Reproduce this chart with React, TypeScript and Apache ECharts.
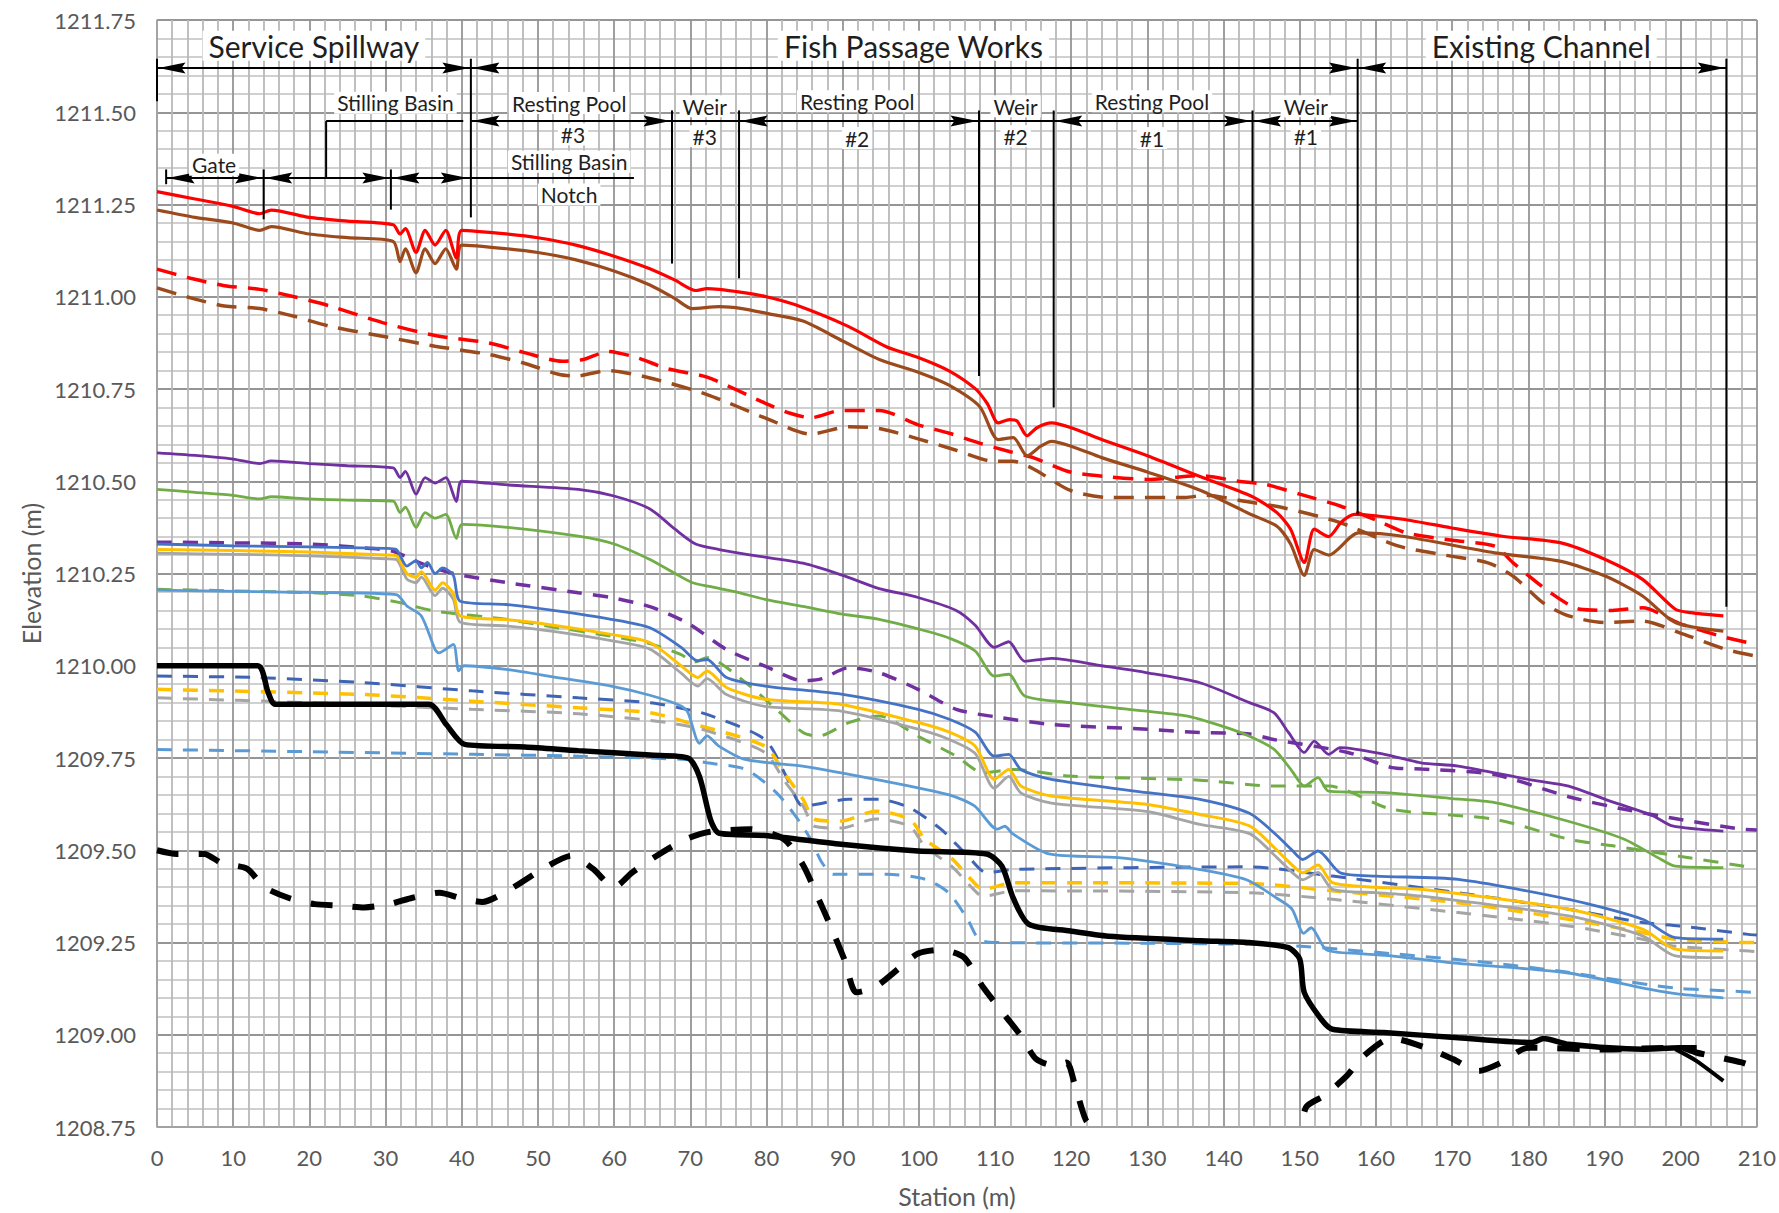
import React, { useEffect, useRef } from "react";
import * as echarts from "echarts";

type P = [number, number];

// ---------- data (station m, elevation m) ----------
const redSolid: P[] = [[0,1211.285],[5,1211.265],[10,1211.245],[13.5,1211.225],[15,1211.235],[20,1211.215],[25,1211.205],[31,1211.195],[31.9,1211.17],[32.6,1211.185],[34,1211.12],[35.2,1211.18],[36.5,1211.14],[37.9,1211.18],[39.3,1211.105],[40,1211.18],[46,1211.17],[50,1211.16],[55,1211.14],[60,1211.11],[64.7,1211.076],[68,1211.045],[70.7,1211.017],[72.2,1211.022],[76.8,1211.012],[80,1211.0],[83.8,1210.978],[90.8,1210.919],[95.8,1210.864],[100,1210.835],[103.9,1210.8],[107.4,1210.751],[109,1210.71],[110.4,1210.658],[111.9,1210.667],[112.9,1210.663],[114.2,1210.623],[115.5,1210.645],[117.4,1210.658],[120,1210.645],[124,1210.613],[130,1210.569],[137,1210.512],[143.6,1210.46],[147,1210.415],[148.8,1210.37],[150.6,1210.28],[151.9,1210.37],[153.8,1210.35],[155.5,1210.39],[157.2,1210.41],[163.5,1210.397],[169.8,1210.374],[176.6,1210.351],[184.3,1210.333],[190.1,1210.288],[195,1210.234],[199.3,1210.153],[201.3,1210.144],[205.6,1210.135]];
const brownSolid: P[] = [[0,1211.235],[5,1211.215],[10,1211.2],[13.5,1211.18],[15,1211.19],[20,1211.17],[25,1211.16],[31,1211.15],[31.9,1211.095],[32.6,1211.13],[34,1211.065],[35.2,1211.13],[36.5,1211.09],[37.9,1211.13],[39.3,1211.075],[40,1211.14],[46,1211.13],[50,1211.12],[55,1211.1],[60,1211.07],[64.7,1211.032],[68,1210.995],[70.2,1210.968],[73.8,1210.973],[76.8,1210.968],[80,1210.955],[84.8,1210.934],[90,1210.88],[94.8,1210.83],[100,1210.795],[103.9,1210.761],[108,1210.702],[110.4,1210.613],[112.4,1210.618],[114.2,1210.569],[116,1210.595],[117.4,1210.608],[120,1210.595],[124,1210.564],[130,1210.525],[137,1210.475],[143.6,1210.41],[147,1210.378],[148.8,1210.33],[150.6,1210.245],[151.9,1210.315],[153.8,1210.3],[157.7,1210.36],[163.5,1210.351],[175.6,1210.306],[184.3,1210.283],[190.1,1210.243],[195,1210.189],[199.3,1210.117],[205.6,1210.094]];
const redDashed: P[] = [[0,1211.075],[4.4,1211.05],[8.85,1211.03],[13.5,1211.02],[18,1211.0],[22.7,1210.975],[29.6,1210.93],[36.5,1210.895],[43.5,1210.875],[48,1210.85],[53.2,1210.825],[56,1210.83],[59.2,1210.852],[63,1210.835],[67,1210.805],[72.2,1210.782],[79.8,1210.712],[83,1210.685],[85.8,1210.672],[89.8,1210.692],[94.8,1210.692],[99.9,1210.653],[104,1210.63],[108,1210.603],[112,1210.58],[115,1210.564],[119.9,1210.525],[125,1210.512],[130,1210.505],[136.9,1210.515],[142,1210.5],[145.6,1210.491],[150,1210.465],[155.3,1210.433],[160,1210.395],[164,1210.36],[170,1210.34],[175.6,1210.324],[178,1210.279],[182.9,1210.198],[186.8,1210.153],[191,1210.15],[195,1210.157],[199.8,1210.115],[206,1210.076],[210,1210.058]];
const brownDashed: P[] = [[0,1211.024],[4.4,1210.997],[8.85,1210.975],[13.5,1210.968],[18,1210.947],[22.7,1210.92],[29.6,1210.893],[36.5,1210.866],[43.5,1210.844],[48,1210.821],[52.7,1210.79],[55,1210.785],[59.2,1210.8],[64.7,1210.78],[72.2,1210.735],[79.8,1210.672],[85.8,1210.628],[90.8,1210.648],[94.8,1210.643],[99.9,1210.615],[104.9,1210.584],[109.9,1210.554],[112.4,1210.554],[115,1210.534],[119.9,1210.475],[125,1210.456],[135,1210.456],[137.5,1210.462],[143,1210.445],[148.1,1210.427],[155.3,1210.388],[163,1210.324],[169,1210.3],[174.7,1210.279],[178,1210.243],[181.9,1210.171],[185.3,1210.135],[190.1,1210.117],[195,1210.121],[199.8,1210.09],[206,1210.044],[209.9,1210.026]];
const purpleSolid: P[] = [[0,1210.577],[5,1210.57],[10,1210.56],[13.5,1210.548],[15,1210.555],[20,1210.548],[25,1210.542],[31,1210.536],[31.9,1210.51],[32.6,1210.527],[34,1210.465],[35.2,1210.51],[36.5,1210.495],[37.9,1210.51],[39.3,1210.445],[40,1210.5],[46,1210.49],[55.3,1210.478],[60,1210.46],[64.7,1210.425],[68,1210.37],[70.7,1210.33],[73.8,1210.315],[78,1210.3],[84.8,1210.278],[90,1210.245],[94.8,1210.209],[99.9,1210.185],[104.9,1210.15],[107.4,1210.11],[109.9,1210.05],[111.8,1210.065],[113.9,1210.012],[117.4,1210.02],[124,1210.0],[130,1209.981],[136.9,1209.954],[143.4,1209.9],[146.6,1209.873],[148.5,1209.82],[150.6,1209.765],[151.9,1209.796],[153.8,1209.76],[155.3,1209.778],[161.1,1209.76],[165.9,1209.737],[170.8,1209.728],[180.5,1209.69],[185.3,1209.674],[190.1,1209.638],[196.4,1209.593],[198.9,1209.566],[205.6,1209.552]];
const greenSolid: P[] = [[0,1210.478],[5,1210.47],[10,1210.462],[13.5,1210.452],[15,1210.458],[20,1210.452],[25,1210.449],[31,1210.446],[31.9,1210.415],[32.6,1210.43],[34,1210.375],[35.2,1210.415],[36.5,1210.4],[37.9,1210.41],[39.3,1210.345],[40,1210.383],[46,1210.375],[55.3,1210.351],[60,1210.33],[64.7,1210.288],[68,1210.25],[70.3,1210.225],[72.5,1210.215],[76,1210.2],[79.8,1210.18],[85,1210.16],[90,1210.14],[94.8,1210.126],[99.9,1210.1],[104,1210.075],[107.4,1210.04],[109.9,1209.972],[111.8,1209.977],[113.9,1209.918],[119.9,1209.9],[126,1209.885],[135.1,1209.864],[140,1209.835],[143.4,1209.809],[146.6,1209.774],[148.8,1209.72],[150.6,1209.674],[152.4,1209.697],[153.8,1209.66],[161.1,1209.656],[170,1209.64],[175.6,1209.629],[185,1209.58],[192.6,1209.53],[197,1209.48],[199.3,1209.457],[205.6,1209.453]];
const purpleDashed: P[] = [[0,1210.335],[10,1210.333],[20,1210.33],[28,1210.318],[31,1210.31],[35,1210.275],[38.9,1210.25],[46,1210.225],[55.3,1210.198],[59.6,1210.185],[64.7,1210.16],[69.7,1210.115],[74.75,1210.044],[79.8,1209.999],[84.8,1209.959],[87.3,1209.965],[90.8,1209.995],[94.8,1209.981],[99.9,1209.936],[104.9,1209.882],[109.9,1209.862],[117.4,1209.841],[130,1209.828],[136.9,1209.819],[143.4,1209.815],[146.6,1209.8],[156.3,1209.765],[162.1,1209.724],[166,1209.72],[175.6,1209.705],[185.3,1209.645],[192.6,1209.611],[199.8,1209.584],[208,1209.557],[210,1209.555]];
const blueSolid: P[] = [[0,1210.33],[10,1210.325],[20,1210.322],[30,1210.318],[31.4,1210.315],[32.8,1210.27],[34,1210.285],[34.7,1210.265],[35.5,1210.28],[36.5,1210.25],[37.5,1210.265],[38.9,1210.245],[39.8,1210.175],[45.8,1210.166],[52,1210.15],[59.6,1210.126],[64.7,1210.103],[68.8,1210.05],[71,1210.013],[72.2,1210.017],[74.75,1209.968],[79.8,1209.945],[89.8,1209.923],[99.9,1209.882],[104,1209.855],[107.4,1209.82],[109.9,1209.755],[111.8,1209.76],[113.4,1209.719],[117.4,1209.692],[130,1209.656],[136.9,1209.638],[143.4,1209.6],[147,1209.54],[149,1209.5],[150.4,1209.475],[152.4,1209.498],[155.3,1209.439],[160,1209.43],[170.8,1209.421],[185.3,1209.367],[195,1209.313],[199.3,1209.263],[205.6,1209.259]];
const yellowSolid: P[] = [[0,1210.315],[10,1210.312],[20,1210.308],[30,1210.3],[31.4,1210.298],[32.8,1210.25],[34,1210.24],[34.7,1210.255],[36.5,1210.205],[37.5,1210.225],[38.9,1210.195],[39.8,1210.135],[45.8,1210.125],[52,1210.11],[59.6,1210.085],[64.7,1210.063],[68.8,1210.0],[71,1209.968],[72.2,1209.986],[74.75,1209.941],[79.8,1209.909],[89.8,1209.895],[99.9,1209.846],[104,1209.82],[107.4,1209.782],[109.9,1209.692],[111.8,1209.719],[113.4,1209.674],[117.4,1209.647],[130,1209.624],[136.9,1209.597],[143.4,1209.566],[147,1209.5],[149,1209.46],[150.4,1209.439],[152.4,1209.46],[154.3,1209.412],[160,1209.4],[165.9,1209.394],[185.3,1209.34],[195,1209.286],[199.3,1209.232],[205.6,1209.227]];
const graySolid: P[] = [[0,1210.305],[10,1210.302],[20,1210.298],[30,1210.29],[31.4,1210.288],[32.8,1210.235],[34,1210.225],[34.7,1210.24],[36.5,1210.19],[37.5,1210.21],[38.9,1210.18],[39.8,1210.118],[45.8,1210.108],[52,1210.093],[59.6,1210.068],[64.7,1210.045],[68.8,1209.98],[71,1209.945],[72.2,1209.965],[74.75,1209.922],[79.8,1209.89],[89.8,1209.877],[99.9,1209.828],[104,1209.8],[107.4,1209.762],[109.9,1209.668],[111.8,1209.7],[113.4,1209.655],[117.4,1209.628],[130,1209.605],[136.9,1209.57],[143.4,1209.545],[147,1209.48],[149,1209.44],[150.4,1209.42],[152.4,1209.44],[154.3,1209.394],[160,1209.385],[165.9,1209.376],[185.3,1209.322],[195,1209.268],[199.3,1209.214],[205.6,1209.209]];
const greenDashed: P[] = [[0,1210.207],[10,1210.203],[20,1210.198],[27,1210.189],[31.9,1210.171],[36.5,1210.148],[45.8,1210.126],[52,1210.105],[59.6,1210.08],[64.7,1210.06],[68.8,1210.03],[70.5,1210.01],[72.2,1210.022],[77.3,1209.954],[81.3,1209.882],[84.8,1209.819],[86.8,1209.809],[90.8,1209.846],[94.8,1209.864],[99.9,1209.809],[104.9,1209.755],[108.4,1209.71],[112.4,1209.719],[119.9,1209.701],[136.9,1209.69],[146.6,1209.674],[153.8,1209.674],[162.1,1209.611],[175.6,1209.584],[185.3,1209.53],[191.1,1209.512],[199.8,1209.484],[209.5,1209.453]];
const lightBlueSolid: P[] = [[0,1210.205],[15,1210.2],[31.4,1210.193],[32.8,1210.162],[34.7,1210.135],[36.5,1210.044],[37,1210.035],[38.9,1210.058],[39.6,1209.986],[40.3,1210.0],[45.8,1209.99],[52,1209.97],[59.6,1209.945],[64.7,1209.92],[68.8,1209.891],[69.7,1209.873],[71.2,1209.79],[72.2,1209.81],[73.7,1209.783],[77.2,1209.746],[84.7,1209.728],[94.8,1209.69],[104,1209.65],[107.3,1209.62],[110.3,1209.557],[111.3,1209.565],[112.3,1209.545],[117.1,1209.49],[126.2,1209.48],[136.2,1209.45],[143,1209.42],[147,1209.37],[149,1209.34],[150.5,1209.275],[151.5,1209.29],[153.5,1209.23],[158,1209.22],[162,1209.214],[170,1209.195],[185,1209.168],[196,1209.123],[199.8,1209.11],[205.6,1209.1]];
const darkBlueDashed: P[] = [[0,1209.972],[13.2,1209.968],[27.2,1209.954],[41.3,1209.932],[55.3,1209.913],[64.7,1209.9],[68.8,1209.885],[72.2,1209.868],[79.8,1209.8],[82.8,1209.692],[84.8,1209.62],[90.8,1209.638],[94.8,1209.638],[98.8,1209.615],[102.9,1209.557],[106.4,1209.485],[108.9,1209.439],[112.4,1209.448],[143.4,1209.455],[154.3,1209.43],[170.8,1209.385],[185.3,1209.34],[195,1209.304],[199.8,1209.295],[208.9,1209.272],[210,1209.27]];
const yellowDashed: P[] = [[0,1209.936],[27.2,1209.922],[41.3,1209.904],[55.3,1209.886],[64.7,1209.873],[69.7,1209.846],[79.8,1209.782],[82.3,1209.71],[84.8,1209.638],[86.3,1209.584],[89.8,1209.579],[94.3,1209.606],[98.8,1209.584],[100.8,1209.53],[104.4,1209.476],[106.9,1209.42],[108.4,1209.394],[112.4,1209.412],[143.4,1209.41],[154.3,1209.39],[170.8,1209.358],[185.3,1209.313],[195,1209.277],[199.3,1209.259],[209,1209.25],[210,1209.25]];
const grayDashed: P[] = [[0,1209.913],[20,1209.9],[41.3,1209.882],[55.3,1209.87],[67,1209.846],[72,1209.825],[79.8,1209.765],[82.3,1209.69],[84.8,1209.62],[86.3,1209.565],[89.8,1209.56],[94.3,1209.585],[98.8,1209.565],[100.8,1209.51],[104.4,1209.455],[106.9,1209.4],[108.4,1209.375],[112.4,1209.39],[143.4,1209.385],[154.3,1209.367],[170.8,1209.331],[185.3,1209.295],[195,1209.259],[199.3,1209.24],[209,1209.227],[210,1209.225]];
const lightBlueDashed: P[] = [[0,1209.773],[20,1209.767],[41.3,1209.76],[55.3,1209.755],[69.4,1209.746],[72.2,1209.737],[77.3,1209.719],[81.3,1209.656],[83.8,1209.593],[85.8,1209.53],[87.3,1209.466],[88.8,1209.435],[95.8,1209.435],[100.9,1209.421],[103.9,1209.385],[106.4,1209.313],[107.9,1209.258],[110,1209.25],[130,1209.248],[143.4,1209.245],[150,1209.24],[155,1209.232],[162,1209.22],[175,1209.195],[185,1209.17],[196,1209.135],[200,1209.125],[205,1209.12],[209.5,1209.115]];
const blackSolid: P[] = [[0,1210.0],[13.2,1210.0],[14.6,1209.927],[15.5,1209.896],[35.7,1209.896],[38,1209.84],[40.4,1209.787],[48.3,1209.78],[55.3,1209.77],[64.7,1209.758],[69.7,1209.75],[71.2,1209.7],[72.7,1209.58],[73.8,1209.546],[79.8,1209.54],[89.8,1209.516],[99.9,1209.498],[108.9,1209.49],[110.9,1209.457],[112.4,1209.37],[114.4,1209.3],[119.9,1209.281],[124.9,1209.267],[136.9,1209.255],[143.4,1209.25],[148.5,1209.236],[150,1209.205],[150.6,1209.114],[152.9,1209.04],[154.3,1209.015],[161,1209.006],[170.8,1208.992],[180.5,1208.979],[182,1208.99],[185.3,1208.974],[195,1208.961],[199.8,1208.965],[202.1,1208.965]];
const blackSolidTail: P[] = [[199.3,1208.961],[202,1208.93],[205.6,1208.875]];
const blackDashed: P[] = [[0,1209.5],[2.6,1209.49],[6.2,1209.49],[8.5,1209.465],[11.8,1209.45],[14.1,1209.4],[17.4,1209.37],[20.7,1209.354],[24,1209.35],[27.2,1209.345],[30.5,1209.354],[33.3,1209.37],[37.1,1209.385],[39.9,1209.37],[42.7,1209.36],[46,1209.39],[50.7,1209.45],[54.4,1209.485],[57.2,1209.45],[60,1209.4],[62.4,1209.44],[65.6,1209.485],[69.4,1209.53],[72.6,1209.55],[77.8,1209.557],[82.3,1209.53],[84.8,1209.46],[86.8,1209.37],[88.3,1209.3],[90.3,1209.2],[91.8,1209.115],[94.3,1209.13],[97.4,1209.18],[99.9,1209.22],[102.9,1209.23],[105.9,1209.21],[108.4,1209.13],[111.4,1209.05],[113.4,1208.997],[115.4,1208.934],[117.9,1208.916],[119.4,1208.925],[120.4,1208.87],[121.9,1208.77],[123.2,1208.74],[126,1208.6],[148,1208.6],[150.8,1208.803],[153.2,1208.835],[156.2,1208.889],[158.2,1208.939],[162,1208.99],[167.1,1208.961],[170.1,1208.934],[173.5,1208.902],[176.5,1208.925],[180,1208.965],[190,1208.96],[200,1208.965],[202,1208.952],[208,1208.925],[210,1208.91]];

// ---------- annotation layout (data coordinates) ----------
const sectionLabels = [
  { text: "Service Spillway", x: 20.6, y: 1211.68 },
  { text: "Fish Passage Works", x: 99.3, y: 1211.68 },
  { text: "Existing Channel", x: 181.7, y: 1211.68 },
];
const subLabels = [
  { text: "Stilling Basin", x: 31.3, y: 1211.526 },
  { text: "Gate", x: 7.5, y: 1211.358 },
  { text: "Resting Pool", x: 54.1, y: 1211.525 },
  { text: "#3", x: 54.6, y: 1211.44 },
  { text: "Stilling Basin", x: 54.1, y: 1211.366 },
  { text: "Notch", x: 54.1, y: 1211.277 },
  { text: "Weir", x: 71.9, y: 1211.516 },
  { text: "#3", x: 71.9, y: 1211.435 },
  { text: "Resting Pool", x: 91.9, y: 1211.53 },
  { text: "#2", x: 91.9, y: 1211.43 },
  { text: "Weir", x: 112.7, y: 1211.516 },
  { text: "#2", x: 112.7, y: 1211.435 },
  { text: "Resting Pool", x: 130.6, y: 1211.53 },
  { text: "#1", x: 130.6, y: 1211.43 },
  { text: "Weir", x: 150.8, y: 1211.516 },
  { text: "#1", x: 150.8, y: 1211.435 },
];
const markerLines: [number, number, number, number][] = [
  [0, 1211.645, 0, 1211.53],
  [41.2, 1211.645, 41.2, 1211.215],
  [157.6, 1211.645, 157.6, 1210.41],
  [206.0, 1211.645, 206.0, 1210.16],
  [14.0, 1211.345, 14.0, 1211.21],
  [30.7, 1211.345, 30.7, 1211.236],
  [1.2, 1211.345, 1.2, 1211.305],
  [22.2, 1211.476, 22.2, 1211.322],
  [67.6, 1211.505, 67.6, 1211.09],
  [76.4, 1211.505, 76.4, 1211.05],
  [107.9, 1211.505, 107.9, 1210.785],
  [117.7, 1211.505, 117.7, 1210.7],
  [143.8, 1211.505, 143.8, 1210.5],
  [0, 1211.62, 206.0, 1211.62],
  [22.2, 1211.476, 40.2, 1211.476],
  [41.2, 1211.476, 157.6, 1211.476],
  [1.2, 1211.322, 62.6, 1211.322],
];
const arrowHeads: [number, number, number][] = [
  [0.2, 1211.62, -1], [41.0, 1211.62, 1],
  [41.4, 1211.62, -1], [157.4, 1211.62, 1],
  [157.8, 1211.62, -1], [205.8, 1211.62, 1],
  [41.4, 1211.476, -1], [67.4, 1211.476, 1],
  [76.6, 1211.476, -1], [107.7, 1211.476, 1],
  [117.9, 1211.476, -1], [143.6, 1211.476, 1],
  [144.0, 1211.476, -1], [157.4, 1211.476, 1],
  [1.4, 1211.322, -1], [13.8, 1211.322, 1],
  [14.2, 1211.322, -1], [30.5, 1211.322, 1],
  [30.9, 1211.322, -1], [40.8, 1211.322, 1],
];

const DASH_LONG = [20, 11];
const DASH = [15, 11];
const seriesDefs = [
  { name: "Red dashed", data: redDashed, color: "#FF0000", width: 3.5, dash: DASH_LONG },
  { name: "Brown dashed", data: brownDashed, color: "#9C4A1C", width: 3.5, dash: DASH_LONG },
  { name: "Purple dashed", data: purpleDashed, color: "#7030A0", width: 3.5, dash: DASH },
  { name: "Green dashed", data: greenDashed, color: "#70AD47", width: 3, dash: DASH },
  { name: "Blue dashed", data: darkBlueDashed, color: "#3F64B5", width: 3, dash: DASH },
  { name: "Yellow dashed", data: yellowDashed, color: "#FFC000", width: 3.5, dash: DASH },
  { name: "Gray dashed", data: grayDashed, color: "#A5A5A5", width: 3, dash: DASH },
  { name: "Light blue dashed", data: lightBlueDashed, color: "#5B9BD5", width: 3, dash: DASH },
  { name: "Black dashed", data: blackDashed, color: "#000000", width: 6, dash: [22, 20] },
  { name: "Light blue", data: lightBlueSolid, color: "#5B9BD5", width: 2.8, dash: "solid" },
  { name: "Gray", data: graySolid, color: "#A5A5A5", width: 2.8, dash: "solid" },
  { name: "Yellow", data: yellowSolid, color: "#FFC000", width: 3, dash: "solid" },
  { name: "Blue", data: blueSolid, color: "#4472C4", width: 2.8, dash: "solid" },
  { name: "Green", data: greenSolid, color: "#70AD47", width: 2.8, dash: "solid" },
  { name: "Purple", data: purpleSolid, color: "#7030A0", width: 2.8, dash: "solid" },
  { name: "Brown", data: brownSolid, color: "#9C4A1C", width: 3.2, dash: "solid" },
  { name: "Red", data: redSolid, color: "#FF0000", width: 3.2, dash: "solid" },
  { name: "Bed", data: blackSolid, color: "#000000", width: 5.5, dash: "solid" },
  { name: "Bed tail", data: blackSolidTail, color: "#000000", width: 4, dash: "solid" },
];

const FONT = "Lato, 'Open Sans', sans-serif";

export default function App() {
  const ref = useRef<HTMLDivElement>(null);
  useEffect(() => {
    if (!ref.current) return;
    const chart = echarts.init(ref.current, undefined, { renderer: "svg" });
    const option: any = {
      animation: false,
      backgroundColor: "#ffffff",
      grid: { left: 157, top: 20, width: 1601, height: 1108, containLabel: false },
      xAxis: {
        type: "value", min: 0, max: 210, interval: 10,
        name: "Station (m)", nameLocation: "middle", nameGap: 56,
        nameTextStyle: { color: "#595959", fontSize: 25, fontFamily: FONT },
        axisLine: { show: true, lineStyle: { color: "#a6a6a6", width: 1.5 } },
        axisTick: { show: false },
        axisLabel: { color: "#595959", fontSize: 22, fontFamily: FONT, margin: 19 },
        splitLine: { show: true, lineStyle: { color: "#959595", width: 1.8 } },
        minorTick: { show: false, splitNumber: 5 },
        minorSplitLine: { show: true, lineStyle: { color: "#b9b9b9", width: 1.8 } },
      },
      yAxis: {
        type: "value", min: 1208.75, max: 1211.75, interval: 0.25,
        name: "Elevation (m)", nameLocation: "middle", nameGap: 110,
        nameTextStyle: { color: "#595959", fontSize: 25, fontFamily: FONT },
        axisLine: { show: true, lineStyle: { color: "#a6a6a6", width: 1.5 } },
        axisTick: { show: false },
        axisLabel: { color: "#595959", fontSize: 22, fontFamily: FONT, margin: 21, formatter: (v: number) => v.toFixed(2) },
        splitLine: { show: true, lineStyle: { color: "#959595", width: 1.8 } },
        minorTick: { show: false, splitNumber: 5 },
        minorSplitLine: { show: true, lineStyle: { color: "#c0c0c0", width: 1.6 } },
      },
      series: seriesDefs.map((s, i) => ({
        name: s.name, type: "line", data: s.data, showSymbol: false, symbol: "none",
        silent: true, z: 2 + i * 0.01, clip: true, smooth: 0.25,
        lineStyle: { color: s.color, width: s.width, type: s.dash },
      })),
    };
    chart.setOption(option);

    const px = (x: number, y: number) => chart.convertToPixel({ gridIndex: 0 }, [x, y]) as number[];
    const graphics: any[] = [];
    markerLines.forEach(([x1, y1, x2, y2]) => {
      const a = px(x1, y1); const b = px(x2, y2);
      graphics.push({ type: "line", z: 100, shape: { x1: a[0], y1: a[1], x2: b[0], y2: b[1] }, style: { stroke: "#000", lineWidth: 2 } });
    });
    arrowHeads.forEach(([x, y, d]) => {
      const t = px(x, y);
      const L = 27, H = 5.5;
      graphics.push({ type: "polygon", z: 101, shape: { points: [[t[0], t[1]], [t[0] - d * L, t[1] - H], [t[0] - d * (L - 4), t[1]], [t[0] - d * L, t[1] + H]] }, style: { fill: "#000" } });
    });
    sectionLabels.forEach((l) => {
      const p = px(l.x, l.y);
      graphics.push({ type: "text", z: 102, x: p[0], y: p[1], style: { text: l.text, font: `30px ${FONT}`, fill: "#1f1f1f", align: "center", verticalAlign: "middle", backgroundColor: "#ffffff", padding: [0, 6] } });
    });
    subLabels.forEach((l) => {
      const p = px(l.x, l.y);
      graphics.push({ type: "text", z: 102, x: p[0], y: p[1], style: { text: l.text, font: `21px ${FONT}`, fill: "#1f1f1f", align: "center", verticalAlign: "middle", backgroundColor: "#ffffff", padding: [0, 3], lineHeight: 22 } });
    });
    chart.setOption({ graphic: graphics });
    return () => chart.dispose();
  }, []);
  return <div ref={ref} style={{ position: "fixed", left: 0, top: 0, width: 1779, height: 1213, background: "#fff" }} />;
}
